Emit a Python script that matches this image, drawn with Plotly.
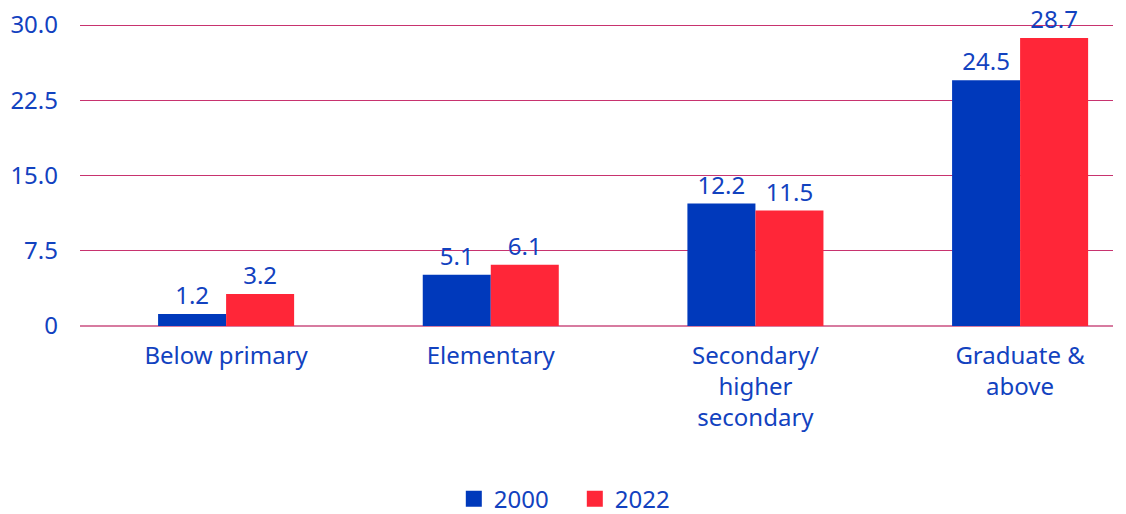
import plotly.graph_objects as go

categories = ["Below primary", "Elementary", "Secondary/<br>higher<br>secondary", "Graduate &<br>above"]
series_names = ["2000", "2022"]
values_2000 = [1.2, 5.1, 12.2, 24.5]
values_2022 = [3.2, 6.1, 11.5, 28.7]
tick_vals = [0, 7.5, 15.0, 22.5, 30.0]
tick_text = ["0", "7.5", "15.0", "22.5", "30.0"]

BLUE = "#0039BB"
RED = "#FF2638"
TEXT = "#1242BF"
GRID = "#C8336F"
FONT = "Noto Sans"
FS = 24

fig = go.Figure()
for name, vals, col in [(series_names[0], values_2000, BLUE), (series_names[1], values_2022, RED)]:
    fig.add_trace(go.Bar(
        x=categories, y=vals, name=name, marker=dict(color=col, line=dict(width=0)),
        text=[f"{v:.1f}" for v in vals], textposition="outside", cliponaxis=False,
        textfont=dict(color=TEXT, size=FS, family=FONT), showlegend=False,
    ))
    fig.add_trace(go.Scatter(
        x=[None], y=[None], mode="markers", name=name,
        marker=dict(symbol="square", size=21, color=col), showlegend=True,
    ))

fig.update_layout(
    width=1126, height=514,
    margin=dict(l=80, r=13, t=21, b=188, autoexpand=False),
    paper_bgcolor="white", plot_bgcolor="white",
    barmode="group", bargap=0.486, bargroupgap=0,
    font=dict(family=FONT, size=FS, color=TEXT),
    legend=dict(orientation="h", x=0.479, xanchor="center", y=-0.568, yanchor="middle",
                itemsizing="trace", font=dict(size=FS, color=TEXT), traceorder="normal",
                entrywidth=76, entrywidthmode="pixels"),
)
fig.update_xaxes(range=[-0.552, 3.351], showgrid=False, showline=False, ticks="",
                 tickfont=dict(size=FS, color=TEXT), automargin=False, ticklabelstandoff=13)
fig.update_yaxes(range=[0, 30.4], tickvals=tick_vals, ticktext=tick_text, showgrid=True,
                 gridcolor=GRID, gridwidth=1, zeroline=True, zerolinecolor="#D77BA0",
                 zerolinewidth=2, showline=False, ticks="", ticklabelstandoff=21,
                 ticklabeloverflow="allow",
                 tickfont=dict(size=FS, color=TEXT), automargin=False)

fig.write_html("out.html", config={"displayModeBar": False},
               post_script="document.body.style.margin='0';document.body.style.overflow='hidden';")
